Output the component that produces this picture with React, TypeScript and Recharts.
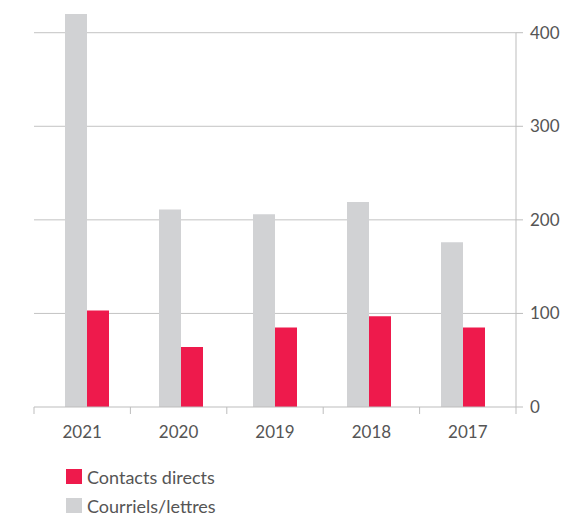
import { BarChart, Bar, XAxis, YAxis, CartesianGrid } from 'recharts';

const years = ['2021', '2020', '2019', '2018', '2017'];
const courriels = [420, 211, 206, 219, 176];
const contacts = [103, 64, 85, 97, 85];
const yTicks = [0, 100, 200, 300, 400];
const gridValues = [100, 200, 300, 400];
const Y_MAX = 420;

const data = years.map((year, i) => ({
  year,
  courriels: courriels[i],
  contacts: contacts[i],
}));

const RED = '#ee1a4c';
const GREY = '#d1d2d4';
const LINE = '#bdbdbd';
const GRID = 'rgba(0,0,0,0.24)';
const TEXT = '#555555';
const FONT = 'Lato, sans-serif';

const WIDTH = 572;
const HEIGHT = 440;
const X_AXIS_H = 30;
const MARGIN = { top: 6, right: 0, left: 26, bottom: 11 };
const Y_AXIS_W = 64;
const PAD = 6;
const PLOT_W = WIDTH - MARGIN.left - MARGIN.right - Y_AXIS_W;
const PLOT_H = HEIGHT - MARGIN.top - MARGIN.bottom - X_AXIS_H;
const BAND = PLOT_W / years.length;
const BAND_PAD = (PLOT_W - 2 * PAD) / years.length;
const lastTick = yTicks[yTicks.length - 1];

// labels and tick marks sit on the unpadded band grid, bars on the padded one
function YearTick(props: any) {
  const { x: xPad, y, payload, index } = props;
  const x = xPad - PAD + index * (BAND - BAND_PAD) + (BAND - BAND_PAD) / 2;
  const isLast = index === years.length - 1;
  return (
    <g>
      <line x1={x - BAND / 2} x2={x - BAND / 2} y1={y} y2={y + 7} stroke={LINE} />
      {isLast && (
        <>
          <line x1={x + BAND / 2} x2={x + BAND / 2} y1={y} y2={y + 7} stroke={LINE} />
          {/* right value axis line, up to the top tick */}
          <line
            x1={x + BAND / 2}
            x2={x + BAND / 2}
            y1={y}
            y2={y - (PLOT_H * lastTick) / Y_MAX}
            stroke={LINE}
          />
        </>
      )}
      <text x={x} y={y + 27} textAnchor="middle" dominantBaseline="middle" fill={TEXT} fontSize={17} fontFamily={FONT}>
        {payload.value}
      </text>
    </g>
  );
}

function LegendItem({ color, label }: { color: string; label: string }) {
  return (
    <div style={{ display: 'flex', alignItems: 'center', height: 29 }}>
      <span style={{ display: 'inline-block', width: 16, height: 15, background: color, marginRight: 5 }} />
      <span style={{ color: TEXT, fontSize: 18, fontFamily: FONT }}>{label}</span>
    </div>
  );
}

export default function App() {
  return (
    <div style={{ width: WIDTH, fontFamily: FONT }}>
      <BarChart width={WIDTH} height={HEIGHT} data={data} margin={MARGIN} barGap={0} barSize={22}>
        <Bar dataKey="courriels" fill={GREY} isAnimationActive={false} />
        <Bar dataKey="contacts" fill={RED} isAnimationActive={false} />
        <CartesianGrid vertical={false} stroke={GRID} horizontalValues={gridValues} />
        <XAxis
          dataKey="year"
          axisLine={{ stroke: LINE }}
          tickLine={false}
          tickSize={0}
          tickMargin={0}
          height={X_AXIS_H}
          padding={{ left: PAD, right: PAD }}
          tick={<YearTick />}
          interval={0}
        />
        <YAxis
          orientation="right"
          domain={[0, Y_MAX]}
          ticks={yTicks}
          width={Y_AXIS_W}
          axisLine={false}
          tickLine={{ stroke: LINE }}
          tickSize={7}
          tickMargin={7}
          tick={{ fill: TEXT, fontSize: 17, fontFamily: FONT }}
        />
      </BarChart>
      <div style={{ marginLeft: 58, marginTop: 14 }}>
        <LegendItem color={RED} label="Contacts directs" />
        <LegendItem color={GREY} label="Courriels/lettres" />
      </div>
    </div>
  );
}
